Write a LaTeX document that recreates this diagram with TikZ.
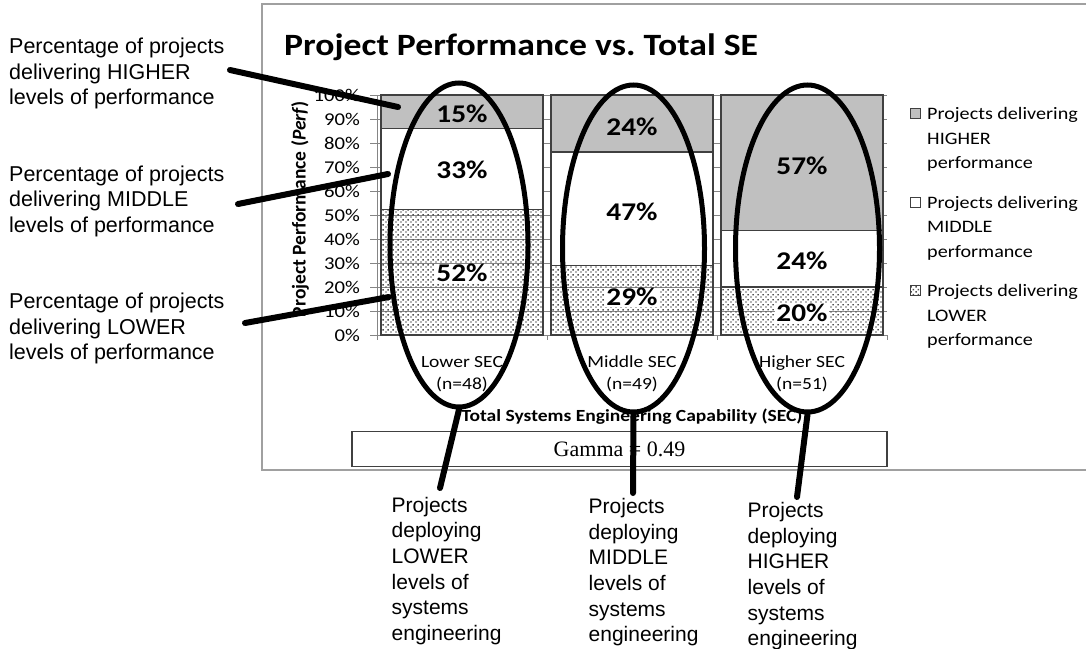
\documentclass[tikz,border=0pt]{standalone}
\usepackage{fontspec}
\setmainfont{Liberation Sans}
\newfontfamily\chartfont[FakeStretch=1.15]{Carlito}
\newfontfamily\chartplain{Carlito}
\newfontfamily\serifgam{Liberation Serif}
\usetikzlibrary{patterns,shapes.geometric}
\definecolor{framegray}{HTML}{A0A0A0}
\definecolor{bargray}{HTML}{C0C0C0}
\definecolor{edgegray}{HTML}{404040}
\definecolor{gridgray}{HTML}{858585}
\definecolor{dotgray}{HTML}{505050}
\pgfdeclarepatternformonly{finedots}{\pgfpointorigin}{\pgfpoint{5pt}{5pt}}{\pgfpoint{5pt}{5pt}}{%
  \pgfpathrectangle{\pgfpoint{0.45pt}{0.45pt}}{\pgfpoint{1.6pt}{1.6pt}}%
  \pgfpathrectangle{\pgfpoint{2.95pt}{2.95pt}}{\pgfpoint{1.6pt}{1.6pt}}%
  \pgfusepath{fill}}
\newcommand\fsz[2]{\fontsize{#1}{#2}\selectfont}
\newcommand\lead[1]{\rule{0pt}{#1pt}}
\begin{document}
\begin{tikzpicture}[x=1pt,y=-1pt,
  seg/.style={draw=edgegray, line width=1.2pt},
  hiseg/.style={seg, fill=bargray},
  midseg/.style={seg, fill=white},
  loseg/.style={seg, pattern=finedots, pattern color=dotgray},
  pct/.style={font=\chartfont\bfseries\fsz{25.5}{30}, inner sep=1.5pt, text height=16pt, text depth=0pt},
  pctbg/.style={pct, fill=white},
  ytick/.style={font=\chartfont\fsz{18}{22}, anchor=base east, inner sep=0pt},
  cat/.style={font=\chartfont\fsz{17}{22}, align=center, anchor=north, inner sep=0pt},
  legtext/.style={font=\chartfont\fsz{17.5}{24.5}, align=left, anchor=north west, inner sep=0pt},
  legkey/.style={draw=edgegray, line width=1pt, minimum size=10pt, inner sep=0pt},
  ring/.style={ellipse, draw=black, line width=5pt, inner sep=0pt},
  pointer/.style={draw=black, line width=6pt, line cap=round},
  note/.style={font=\fsz{21.5}{25.5}, align=left, anchor=north west, inner sep=0pt},
  bnote/.style={font=\fsz{21}{25.6}, align=left, anchor=north west, inner sep=0pt},
  grid/.style={draw=gridgray, line width=0.8pt}
]
\useasboundingbox (0,0) rectangle (1086,648);
% chart frame
\draw[framegray, line width=2pt] (1092,4) -- (262,4) -- (262,470) -- (1092,470);
% gridlines
\foreach \p in {10,20,...,100}{
  \draw[grid] (377,{335-2.4*\p}) -- (887,{335-2.4*\p});
  \draw[grid] (370,{335-2.4*\p}) -- (377,{335-2.4*\p});
}
\draw[grid] (370,335) -- (377,335);
\draw[grid] (377,95) -- (377,335) -- (887,335);
\foreach \x in {377,547,717,887}{ \draw[grid] (\x,335) -- (\x,340); }
% y tick labels
\foreach \p in {0,10,...,100}{
  \node[ytick] (yl\p) at (360,{335-2.4*\p+6}) {\p\%};
}
% bars
\draw[loseg] (381,335) rectangle (543,209.5);
\draw[midseg] (381,209.5) rectangle (543,128.5);
\draw[hiseg] (381,128.5) rectangle (543,95);
\draw[loseg] (551,335) rectangle (713,265.4);
\draw[midseg] (551,265.4) rectangle (713,152);
\draw[hiseg] (551,152) rectangle (713,95);
\draw[loseg] (721,335) rectangle (883,287);
\draw[midseg] (721,287) rectangle (883,230.5);
\draw[hiseg] (721,230.5) rectangle (883,95);
% value labels
\node[pct] (v1h) at (462,114) {15\%};
\node[pct] (v1m) at (462,170) {33\%};
\node[pctbg] (v1l) at (462,273) {52\%};
\node[pct] (v2h) at (632,127) {24\%};
\node[pct] (v2m) at (632,212) {47\%};
\node[pctbg] (v2l) at (632,297) {29\%};
\node[pct] (v3h) at (802,166) {57\%};
\node[pct] (v3m) at (802,261) {24\%};
\node[pctbg] (v3l) at (802,313) {20\%};
% titles
\node[anchor=base west, inner sep=0pt, font=\chartfont\bfseries\fsz{31}{36}] (title) at (284,55) {Project Performance vs.\ Total SE};
\node[rotate=90, inner sep=0pt, font=\chartplain\bfseries\fsz{19.5}{22}] (ytitle) at (300,209) {Project Performance (\textit{Perf})};
\node[anchor=base, inner sep=0pt, font=\chartfont\bfseries\fsz{17}{20}] (xtitle) at (632,421.5) {Total Systems Engineering Capability (SEC)};
% categories
\node[cat] (c1) at (462,354) {\lead{13.6}Lower SEC\\(n=48)};
\node[cat] (c2) at (632,354) {\lead{13.6}Middle SEC\\(n=49)};
\node[cat] (c3) at (802,354) {\lead{13.6}Higher SEC\\(n=51)};
% gamma
\node[draw=edgegray, line width=1.2pt, minimum width=535pt, minimum height=34.5pt, inner sep=0pt, font=\serifgam\fsz{22}{26}] (gamma) at (619.5,449) {Gamma = 0.49};
% legend
\node[legkey, fill=bargray] (k1) at (915,113) {};
\node[legkey, fill=white] (k2) at (915,202) {};
\node[legkey, pattern=finedots, pattern color=dotgray] (k3) at (915,290) {};
\node[legtext] (t1) at (927,105.5) {\lead{14}Projects delivering\\HIGHER\\performance};
\node[legtext] (t2) at (927,194) {\lead{14}Projects delivering\\MIDDLE\\performance};
\node[legtext] (t3) at (927,282.5) {\lead{14}Projects delivering\\LOWER\\performance};
% annotations left
\node[note] (nh) at (9,36.2) {\lead{17.2}Percentage of projects\\delivering HIGHER\\levels of performance};
\node[note] (nm) at (9,163.8) {\lead{17.2}Percentage of projects\\delivering MIDDLE\\levels of performance};
\node[note] (nl) at (9,291.4) {\lead{17.2}Percentage of projects\\delivering LOWER\\levels of performance};
% annotations bottom
\node[bnote] (bl) at (391.5,495.2) {\lead{16.8}Projects\\deploying\\LOWER\\levels of\\systems\\engineering};
\node[bnote] (bm) at (588.5,496.7) {\lead{16.8}Projects\\deploying\\MIDDLE\\levels of\\systems\\engineering};
\node[bnote] (bh) at (747.5,500.7) {\lead{16.8}Projects\\deploying\\HIGHER\\levels of\\systems\\engineering};
% ellipses
\node[ring, minimum width=138pt, minimum height=324pt] (e1) at (459,245) {};
\node[ring, minimum width=142pt, minimum height=327pt] (e2) at (633.5,248.5) {};
\node[ring, minimum width=144pt, minimum height=327pt] (e3) at (807.5,248.5) {};
% pointer ends
\coordinate (ha) at (230,70);
\coordinate (hb) at (398,107);
\coordinate (ma) at (238,204);
\coordinate (mb) at (388,174);
\coordinate (la) at (245,323);
\coordinate (lb) at (389,297);
\coordinate (d1) at (440,488);
\coordinate (d2) at (633,493);
\coordinate (d3) at (797,497);
\draw[pointer] (ha) -- (hb);
\draw[pointer] (ma) -- (mb);
\draw[pointer] (la) -- (lb);
\draw[pointer] (e1.south) -- (d1);
\draw[pointer] (e2.south) -- (d2);
\draw[pointer] (e3.south) -- (d3);
\end{tikzpicture}
\end{document}
